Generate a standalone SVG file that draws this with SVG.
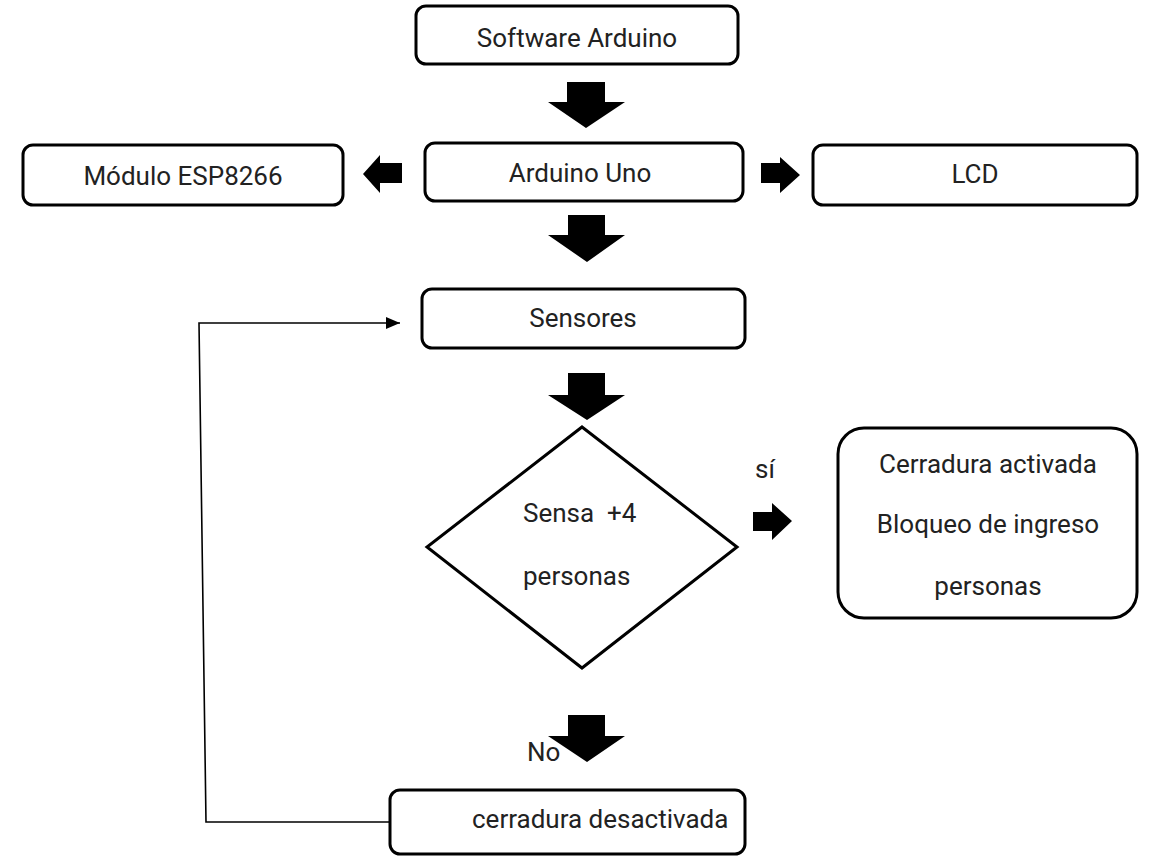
<svg xmlns="http://www.w3.org/2000/svg" width="1150" height="856" viewBox="0 0 1150 856">
<style>
.box{fill:#fff;stroke:#000;stroke-width:3}
.t{font-family:Roboto,"Liberation Sans",sans-serif;font-size:26px;fill:#222}
.bar{fill:#000}
.line{fill:none;stroke:#000;stroke-width:1.6}
</style>
<defs>
<marker id="ah" markerWidth="10" markerHeight="10" refX="9" refY="5" orient="auto" markerUnits="userSpaceOnUse" viewBox="0 0 10 10">
<path d="M0,0 L10,5 L0,10 Z" fill="#000"/>
</marker>
<marker id="ah2" markerWidth="14" markerHeight="12" refX="14" refY="6" orient="auto" markerUnits="userSpaceOnUse" viewBox="0 0 14 12">
<path d="M0,0 L14,6 L0,12 Z" fill="#000"/>
</marker>
</defs>
<rect width="1150" height="856" fill="#fff"/>
<g id="connectors">
<polygon class="bar" points="567,82 605,82 605,102 625,102 586,128 548,102 567,102"/>
<polygon class="bar" points="402,163 402,183 380,183 380,193 363,174 380,155 380,163"/>
<polygon class="bar" points="761,163 780,163 780,157 800,175 780,193 780,183 761,183"/>
<polygon class="bar" points="568,215 605,215 605,235 625,235 587,262 548,235 568,235"/>
<polygon class="bar" points="568,373 605,373 605,395 625,395 587,420 548,395 568,395"/>
<polygon class="bar" points="753,512 772,512 772,503 792,521 772,540 772,531 753,531"/>
<polygon class="bar" points="568,715 605,715 605,736 625,736 587,762 548,736 568,736"/>
<polyline class="line" points="390,822 206,822 199,323 400,323" marker-end="url(#ah2)"/>
<text class="t" x="755" y="478" font-size="22">sí</text>
<text class="t" x="527" y="761" font-size="22">No</text>
</g>
<g id="software">
<rect class="box" x="416" y="6" width="322" height="58" rx="10"/>
<text class="t" x="577" y="47" text-anchor="middle">Software Arduino</text>
</g>
<g id="esp">
<rect class="box" x="23" y="145" width="320" height="60" rx="10"/>
<text class="t" x="183" y="185" text-anchor="middle">Módulo ESP8266</text>
</g>
<g id="arduino">
<rect class="box" x="425" y="143" width="318" height="58" rx="10"/>
<text class="t" x="580" y="182" text-anchor="middle">Arduino Uno</text>
</g>
<g id="lcd">
<rect class="box" x="813" y="145" width="324" height="60" rx="10"/>
<text class="t" x="975" y="183" text-anchor="middle">LCD</text>
</g>
<g id="sensores">
<rect class="box" x="422" y="289" width="323" height="59" rx="10"/>
<text class="t" x="583" y="327" text-anchor="middle">Sensores</text>
</g>
<g id="decision">
<polygon class="box" points="582,427 737,547 582,668 427,547"/>
<text class="t" x="523" y="522" xml:space="preserve">Sensa  +4</text>
<text class="t" x="523" y="585">personas</text>
</g>
<g id="activada">
<rect class="box" x="838" y="428" width="299" height="190" rx="26"/>
<text class="t" x="988" y="473" text-anchor="middle">Cerradura activada</text>
<text class="t" x="988" y="533" text-anchor="middle">Bloqueo de ingreso</text>
<text class="t" x="988" y="595" text-anchor="middle">personas</text>
</g>
<g id="desactivada">
<rect class="box" x="390" y="790" width="355" height="64" rx="10"/>
<text class="t" x="472" y="828">cerradura desactivada</text>
</g>
</svg>
